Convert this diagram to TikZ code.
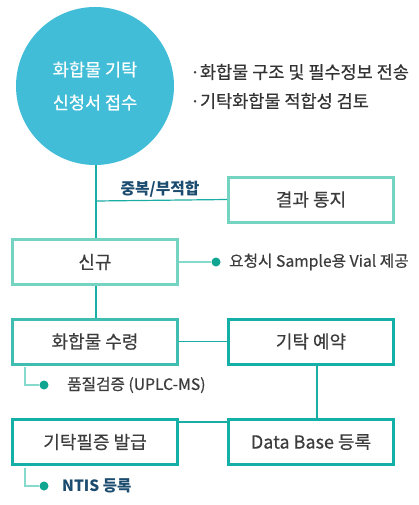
\documentclass[tikz,border=0pt]{standalone}
\usepackage{fontspec}
\setmainfont{Noto Sans CJK KR}
\newfontfamily\medfont[FakeBold=0.5]{Noto Sans CJK KR}
\definecolor{circ}{HTML}{41BDD7}
\definecolor{boxA}{HTML}{74D3C1}
\definecolor{boxB}{HTML}{3FBDB1}
\definecolor{boxC}{HTML}{14B0A8}
\definecolor{lineC}{HTML}{1AADA3}
\definecolor{branchC}{HTML}{86DACB}
\definecolor{dotC}{HTML}{0FA590}
\definecolor{txt}{HTML}{3C3C3C}
\definecolor{navy}{HTML}{1B4B6E}
\begin{document}
\begin{tikzpicture}[x=1pt,y=-1pt,
  stepbox/.style={draw=#1,line width=3pt,minimum width=165pt,minimum height=45pt,inner sep=0pt,text=txt,font=\medfont\fontsize{18}{21}\selectfont},
  conn/.style={draw=lineC,line width=1.2pt},
  branch/.style={draw=branchC,line width=1.5pt},
  dotnode/.style={circle,fill=dotC,minimum size=9pt,inner sep=0pt},
  note/.style={text=txt,font=\medfont\fontsize{15.7}{18}\selectfont,inner sep=0pt,anchor=west}]
\useasboundingbox (0,0) rectangle (419,505);
\node[circle,fill=circ,minimum size=158pt,inner sep=0pt,text=white,align=center,
  font=\medfont\fontsize{17.5}{33}\selectfont] (circ) at (95,86) {화합물 기탁\\신청서 접수};
\node[note,text=black!80,font=\medfont\fontsize{17.5}{20}\selectfont] (r1) at (190,72) {·화합물 구조 및 필수정보 전송};
\node[note,text=black!80,font=\medfont\fontsize{17.5}{20}\selectfont] (r2) at (190,101) {·기탁화합물 적합성 검토};
\node[stepbox=boxA] (result) at (311,199.5) {결과 통지};
\node[stepbox=boxA] (new) at (95,262) {신규};
\node[stepbox=boxB] (receive) at (95,341.5) {화합물 수령};
\node[stepbox=boxC] (reserve) at (311,341.5) {기탁 예약};
\node[stepbox=boxC] (issue) at (95,442) {기탁필증 발급};
\node[stepbox=boxC] (db) at (311,442) {Data Base 등록};
\coordinate (j) at (96,201);
\node[text=navy,font=\bfseries\fontsize{15.8}{18}\selectfont,inner sep=0pt] (dup) at (160,189) {중복/부적합};
\node[dotnode] (d1) at (216,262) {};
\node[note] (t1) at (229,262) {요청시 Sample용 Vial 제공};
\node[dotnode] (d2) at (44,385) {};
\node[note] (t2) at (67,385) {품질검증 (UPLC-MS)};
\node[dotnode] (d3) at (44,486) {};
\node[note,text=navy,font=\bfseries\fontsize{15.5}{18}\selectfont] (t3) at (62,486) {NTIS 등록};
\draw[conn] ([xshift=1pt]circ.south) -- ([xshift=1pt]new.north);
\draw[conn] (j) -- (result.west);
\draw[branch] (new.east) -- (d1);
\draw[conn] ([xshift=1pt]new.south) -- ([xshift=1pt]receive.north);
\draw[conn] (receive.east) -- (reserve.west);
\draw[conn] ([xshift=6pt]reserve.south) -- ([xshift=6pt]db.north);
\draw[conn] ([yshift=20pt]issue.east) -- ([yshift=20pt]db.west);
\draw[branch] ([xshift=-70pt,yshift=-1.5pt]receive.south) |- (d2);
\draw[branch] ([xshift=-70pt,yshift=-1.5pt]issue.south) |- (d3);
\end{tikzpicture}
\end{document}
